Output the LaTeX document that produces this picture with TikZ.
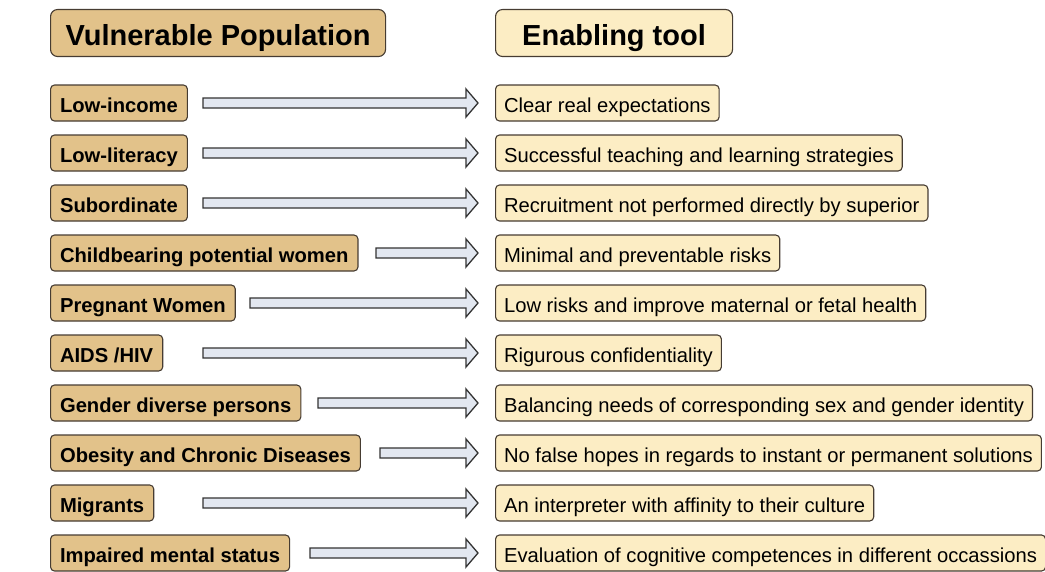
\documentclass[tikz,border=0pt]{standalone}
\usepackage{fontspec}
\setmainfont{Liberation Sans}
\usetikzlibrary{calc}
\definecolor{tanfill}{RGB}{226,194,138}
\definecolor{creamfill}{RGB}{252,237,196}
\definecolor{boxedge}{RGB}{70,60,50}
\definecolor{shaftfill}{RGB}{226,231,240}
\tikzset{
  group/.style={draw=boxedge, line width=1.1pt, rounded corners=4pt, fill=tanfill,
    anchor=west, minimum height=36pt, inner xsep=9.5pt, text height=18pt, text depth=0pt,
    font=\fontsize{20.2}{24}\selectfont\bfseries},
  tool/.style={group, fill=creamfill, inner xsep=8.5pt, font=\fontsize{20.2}{24}\selectfont},
  head/.style={group, minimum height=47pt, rounded corners=7pt, text height=24pt, text depth=0pt,
    font=\fontsize{29}{34}\selectfont\bfseries},
  fat/.style={draw=black!80, line width=1.3pt, fill=shaftfill, line join=miter}
}
\newcommand{\fatarrow}[2]{%
  \draw[fat] let \p1=(#1), \p2=(#2) in
    (\x1,\y1+5pt) -- (\x2-12pt,\y1+5pt) -- (\x2-12pt,\y1+14pt) -- (\x2,\y1)
    -- (\x2-12pt,\y1-14pt) -- (\x2-12pt,\y1-5pt) -- (\x1,\y1-5pt) -- cycle;}
\begin{document}
\begin{tikzpicture}[x=1pt,y=-1pt]
  \useasboundingbox (0,0) rectangle (1045,571);

  % headings
  \node[head, minimum width=335pt] (vp) at (50,33) {Vulnerable Population};
  \node[head, fill=creamfill, minimum width=237pt] (et) at (495,33) {Enabling tool};

  % rows
  \foreach \i/\tx/\grp/\tl in {
      1/203/Low-income/Clear real expectations,
      2/203/Low-literacy/Successful teaching and learning strategies,
      3/203/Subordinate/Recruitment not performed directly by superior,
      4/376/Childbearing potential women/Minimal and preventable risks,
      5/250/Pregnant Women/Low risks and improve maternal or fetal health,
      6/203/{AIDS /HIV}/Rigurous confidentiality,
      7/318/Gender diverse persons/Balancing needs of corresponding sex and gender identity,
      8/380/Obesity and Chronic Diseases/No false hopes in regards to instant or permanent solutions,
      9/203/Migrants/An interpreter with affinity to their culture,
      10/310/Impaired mental status/Evaluation of cognitive competences in different occassions} {
    \node[group] (g\i) at (50,53+50*\i) {\grp};
    \node[tool] (t\i) at (495,53+50*\i) {\tl};
    \coordinate (a\i) at (\tx,53+50*\i);
    \coordinate (b\i) at ([xshift=-17pt]t\i.west);
    \fatarrow{a\i}{b\i}
  }
\end{tikzpicture}
\end{document}
